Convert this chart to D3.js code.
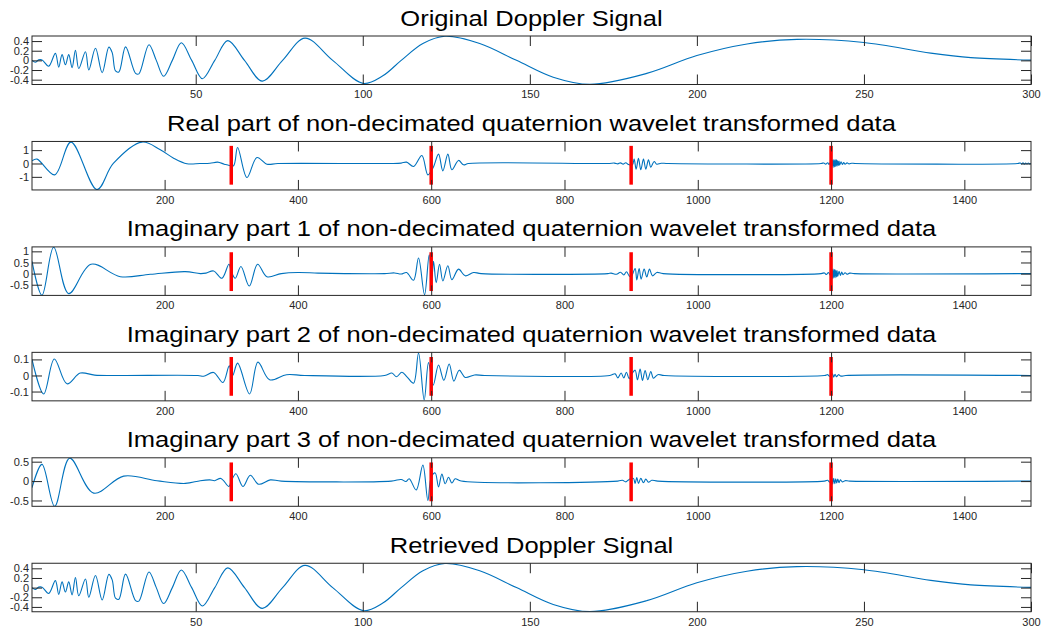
<!DOCTYPE html>
<html><head><meta charset="utf-8">
<script src="https://cdn.jsdelivr.net/npm/d3@7/dist/d3.min.js"></script>
<style>
body{margin:0;background:#fff}
svg{display:block}
text{font-family:"Liberation Sans",Arial,Helvetica,sans-serif}
</style>
</head><body>
<svg id="chart" width="1042" height="629"></svg>
<script>
// ---------------- data ----------------
const panelTitles = [
  "Original Doppler Signal",
  "Real part of non-decimated quaternion wavelet transformed data",
  "Imaginary part 1 of non-decimated quaternion wavelet transformed data",
  "Imaginary part 2 of non-decimated quaternion wavelet transformed data",
  "Imaginary part 3 of non-decimated quaternion wavelet transformed data",
  "Retrieved Doppler Signal"
];
const signalXDomain = [1, 300];
const coefXDomain = [1, 1500];
const signalXTicks = [50, 100, 150, 200, 250, 300];
const coefXTicks = [200, 400, 600, 800, 1000, 1200, 1400];
const signalYTicks = [-0.4, -0.2, 0, 0.2, 0.4];
const realYTicks = [-1, 0, 1];
const imag1YTicks = [-0.5, 0, 0.5, 1];
const imag2YTicks = [-0.1, 0, 0.1];
const imag3YTicks = [-0.5, 0, 0.5];
const signalYLim = [-0.5, 0.505];
const realYLim = [-1.98, 1.65];
const imag1YLim = [-0.98, 1.2];
const imag2YLim = [-0.158, 0.144];
const imag3YLim = [-0.65, 0.6];
const markerPositions = [300, 600, 900, 1200];
const markerFraction = 0.8;

// [sample index, value] (extrema, crossings and a few in-between readings)
const originalDoppler = [
  [1,0],[2,-0.04],[3,0.01],[4,0.01],[6,-0.12],[8,0.145],[9,-0.14],[10,0.12],[11,-0.09],
  [12,0.12],[13,-0.15],[14,0.21],[15,-0.17],[17,0.18],[18,-0.2],[20,0.25],[22,-0.255],
  [24,0.275],[25,0.16],[26,-0.22],[27,-0.24],[29,0.28],[32,-0.27],[33,-0.28],[36,0.325],
  [38.2,0],[40.4,-0.33],[43,0],[45.7,0.365],[48.8,0],[52,-0.38],[55.7,0],[59.6,0.41],
  [64.6,0],[69.9,-0.43],[76,0],[82.7,0.46],[91,0],[100.1,-0.477],[106,-0.32],[111.5,0],
  [118,0.35],[124.6,0.5],[135,0.35],[146,0],[157,-0.35],[168,-0.497],[185,-0.27],
  [200,0.1],[215,0.34],[230,0.435],[250,0.37],[270,0.15],[282,0.056],[300,0.005]
];
const retrievedDoppler = [
  [1,0],[2,-0.04],[3,0.01],[4,0.01],[6,-0.12],[8,0.145],[9,-0.14],[10,0.12],[11,-0.09],
  [12,0.12],[13,-0.15],[14,0.21],[15,-0.17],[17,0.18],[18,-0.2],[20,0.25],[22,-0.255],
  [24,0.275],[25,0.16],[26,-0.22],[27,-0.24],[29,0.28],[32,-0.27],[33,-0.28],[36,0.325],
  [38.2,0],[40.4,-0.33],[43,0],[45.7,0.365],[48.8,0],[52,-0.38],[55.7,0],[59.6,0.41],
  [64.6,0],[69.9,-0.43],[76,0],[82.7,0.46],[91,0],[100.1,-0.477],[106,-0.32],[111.5,0],
  [118,0.35],[124.6,0.5],[135,0.35],[146,0],[157,-0.35],[168,-0.497],[185,-0.27],
  [200,0.1],[215,0.34],[230,0.435],[250,0.37],[270,0.15],[282,0.056],[300,0.005]
];
const realPart = [
  [1,0.2],[8.5,0.33],[35,-0.85],[59.5,1.6],[98.5,-1.95],[123,0],[166,1.6],[193.5,1.03],
  [213.5,0.4],[233.5,-0.02],[253,0],[268,0.02],[279.5,0.1],[289.5,-0.05],[297,-0.15],
  [303.5,-0.17],[309.5,1.2],[323.5,-1.05],[338.5,0.45],[353.5,-0.05],[370,0],[540,0],
  [555,0.03],[563,0.1],[573.5,-0.22],[586,0.6],[595,-0.85],[603,-0.3],[611,0.7],
  [617.5,-0.55],[625,0.7],[631,-0.47],[641,0.23],[648.5,-0.1],[656,0],[865,0],
  [875,0.03],[880,-0.03],[884,0.05],[888,-0.05],[892,0.06],[896,-0.08],[902,-0.1],
  [904.5,0.33],[907.5,-0.42],[911,0.38],[914.5,-0.47],[918.5,0.33],[922,-0.42],[926,0.28],
  [929.5,-0.27],[934.5,0.15],[938.5,-0.05],[945,0.02],[955,0],[1185,0],[1189,0.04],
  [1192,-0.05],[1195,0.06],[1197,-0.07],[1199,0.08],[1201,-0.15],[1202,0.25],[1203,-0.3],
  [1204,0.28],[1205,-0.25],[1206,0.3],[1207,-0.22],[1208,0.27],[1209,-0.2],[1210,0.22],
  [1211,-0.15],[1212,0.18],[1213,-0.12],[1215,0.12],[1217,-0.08],[1219,0.08],[1221,-0.05],
  [1224,0.05],[1227,-0.03],[1231,0.02],[1236,0],[1480,0],[1484,0.04],[1486,-0.04],
  [1488,0.05],[1490,-0.05],[1492,0.04],[1494,-0.04],[1496,0.04],[1498,-0.03],[1500,0]
];
const imagPart1 = [
  [1,0.55],[16,-0.97],[33.5,1.19],[56,-0.9],[89.5,0.42],[133.5,-0.14],[178.5,-0.03],
  [231,0.09],[253.5,0],[262,0.02],[273.5,0.12],[286,-0.21],[296.5,0.42],[300,0.1],
  [306,-0.21],[314.5,0.32],[327,-0.56],[339.5,0.42],[353.5,-0.14],[375,0],[400,0.05],
  [430,0.02],[470,0],[530,0],[545,0.03],[555,-0.02],[563,0.05],[573.5,-0.3],[581,0.7],
  [590,-0.95],[597,0.85],[601,-0.2],[603.5,0.55],[607.5,-0.41],[612.5,0.42],[617.5,-0.33],
  [625,0.35],[631,-0.27],[641,0.2],[651,-0.1],[663.5,0.05],[675,0],[865,0],[870,0.02],
  [878,-0.03],[884,0.06],[889,-0.06],[893,0.08],[897,-0.1],[900,-0.15],[906,0.23],
  [908.5,-0.28],[912,0.23],[915,-0.25],[919.5,0.2],[923.5,-0.15],[927.5,0.2],[932,-0.1],
  [938.5,0.05],[948,0],[1185,0],[1190,0.03],[1193,-0.04],[1196,0.05],[1199,-0.08],
  [1201,0.2],[1202,-0.22],[1203,0.2],[1204,-0.2],[1205,0.18],[1206,-0.18],[1207,0.16],
  [1208,-0.15],[1209,0.14],[1210,-0.12],[1212,0.1],[1214,-0.08],[1216,0.07],[1218,-0.05],
  [1221,0.04],[1224,-0.03],[1228,0.02],[1235,0],[1500,0]
];
const imagPart2 = [
  [1,0.1],[18.5,-0.115],[34.5,0.103],[53.5,-0.052],[73.5,0.015],[95,0.002],[130,0],
  [250,0],[258.5,-0.005],[273.5,0.019],[287.5,-0.044],[297,0.06],[302,0],[309.5,0.077],
  [327.5,-0.115],[340,0.083],[357.5,-0.027],[383,0.005],[410,0],[530,0],[541,0.015],
  [548,-0.008],[556,0.02],[564,-0.01],[573.5,-0.048],[581,0.14],[589.5,-0.152],[596,0.08],
  [603,-0.06],[611,0.065],[619,-0.03],[627,0.071],[634,-0.035],[642,0.033],[651,-0.012],
  [665,0.003],[680,0],[868,0],[876,0.01],[880,-0.015],[885,0.015],[889,-0.015],[893,0.02],
  [897,-0.02],[901,0.01],[906,0.033],[909.5,-0.027],[913.5,0.04],[917,-0.031],[921,0.031],
  [925,-0.027],[929.5,0.025],[933.5,-0.017],[940,0.005],[950,0],[1190,0],[1195,0.005],
  [1198,-0.006],[1202,0.01],[1204,-0.01],[1206,0.008],[1208,-0.008],[1211,0.005],
  [1215,-0.004],[1222,0],[1500,0]
];
const imagPart3 = [
  [1,-0.17],[16,0.43],[35,-0.65],[57.5,0.59],[93.5,-0.31],[138.5,0.127],[188.5,0.008],
  [231,-0.06],[253.5,0.01],[268,0.03],[275,0.01],[284.5,0.068],[296.5,-0.14],[300,0],
  [307,0.19],[317.5,-0.14],[328.5,0.15],[341,-0.08],[358.5,0.03],[375,0],[540,0],
  [555,0.04],[562,-0.01],[567,0.06],[577.5,-0.23],[587.5,0.41],[595,-0.5],[600,0.1],
  [606,0.21],[611,-0.15],[616,0.18],[621,-0.07],[626,0.1],[631,-0.05],[636,0.06],[645,0],
  [880,0],[887,0.02],[892,-0.02],[896,0.03],[899,0.06],[903.5,0.07],[906,-0.06],
  [908.5,0.09],[911,-0.06],[914.5,0.07],[918.5,-0.04],[922,0.05],[926,-0.03],[931,0.02],
  [940,0],[1190,0],[1195,0.02],[1198,-0.03],[1201,0.07],[1202.5,-0.08],[1204,0.07],
  [1205.5,-0.07],[1207,0.06],[1208.5,-0.05],[1210,0.05],[1212,-0.04],[1214,0.03],
  [1217,-0.02],[1221,0.01],[1228,0],[1500,0]
];

// ---------------- layout / style ----------------
const panels = [
  {title: panelTitles[0], data: originalDoppler, xd: signalXDomain, xt: signalXTicks, yl: signalYLim, yt: signalYTicks, markers: false},
  {title: panelTitles[1], data: realPart, xd: coefXDomain, xt: coefXTicks, yl: realYLim, yt: realYTicks, markers: true},
  {title: panelTitles[2], data: imagPart1, xd: coefXDomain, xt: coefXTicks, yl: imag1YLim, yt: imag1YTicks, markers: true},
  {title: panelTitles[3], data: imagPart2, xd: coefXDomain, xt: coefXTicks, yl: imag2YLim, yt: imag2YTicks, markers: true},
  {title: panelTitles[4], data: imagPart3, xd: coefXDomain, xt: coefXTicks, yl: imag3YLim, yt: imag3YTicks, markers: true},
  {title: panelTitles[5], data: retrievedDoppler, xd: signalXDomain, xt: signalXTicks, yl: signalYLim, yt: signalYTicks, markers: false}
];
const L = 32, R = 1031, TOP0 = 36, STEP = 105.45, H = 48.5;
const axisColor = "#262626", lineColor = "#0072BD";
const svg = d3.select("#chart");
const fmt = d => String(d);

panels.forEach((p, i) => {
  const top = TOP0 + i * STEP, bottom = top + H;
  const x = d3.scaleLinear().domain(p.xd).range([L, R]);
  const y = d3.scaleLinear().domain(p.yl).range([bottom, top]);
  const g = svg.append("g");

  g.append("clipPath").attr("id", "clip" + i)
    .append("rect").attr("x", L).attr("y", top).attr("width", R - L).attr("height", H);

  const line = d3.line().x(d => x(d[0])).y(d => y(d[1])).curve(d3.curveCatmullRom.alpha(0.5));
  g.append("path").datum(p.data).attr("d", line)
    .attr("fill", "none").attr("stroke", lineColor).attr("stroke-width", 1.1)
    .attr("stroke-linejoin", "round").attr("clip-path", `url(#clip${i})`);

  if (p.markers) {
    g.selectAll("line.marker").data(markerPositions).join("line")
      .attr("class", "marker")
      .attr("x1", d => x(d)).attr("x2", d => x(d))
      .attr("y1", y(p.yl[0] * markerFraction)).attr("y2", y(p.yl[1] * markerFraction))
      .attr("stroke", "#ff0000").attr("stroke-width", 3.5);
  }

  const styleAxis = (sel, labels) => {
    sel.select(".domain").remove();
    sel.selectAll(".tick line").attr("stroke", axisColor).attr("stroke-width", 1);
    sel.selectAll(".tick text").attr("fill", axisColor).style("font-size", "11px");
    if (!labels) sel.selectAll(".tick text").remove();
  };
  g.append("g").attr("transform", `translate(0,${bottom})`)
    .call(d3.axisBottom(x).tickValues(p.xt).tickFormat(fmt).tickSizeInner(-10).tickSizeOuter(0).tickPadding(6))
    .call(s => styleAxis(s, true));
  g.append("g").attr("transform", `translate(0,${top})`)
    .call(d3.axisTop(x).tickValues(p.xt).tickSizeInner(-10).tickSizeOuter(0))
    .call(s => styleAxis(s, false));
  g.append("g").attr("transform", `translate(${L},0)`)
    .call(d3.axisLeft(y).tickValues(p.yt).tickFormat(fmt).tickSizeInner(-10).tickSizeOuter(0).tickPadding(3))
    .call(s => styleAxis(s, true));
  g.append("g").attr("transform", `translate(${R},0)`)
    .call(d3.axisRight(y).tickValues(p.yt).tickSizeInner(-10).tickSizeOuter(0))
    .call(s => styleAxis(s, false));

  g.append("rect").attr("x", L).attr("y", top).attr("width", R - L).attr("height", H)
    .attr("fill", "none").attr("stroke", axisColor).attr("stroke-width", 1);

  svg.append("g").attr("transform", `translate(${(L + R) / 2},${top - 10.5}) scale(1.16,1)`)
    .append("text").attr("text-anchor", "middle").attr("fill", "#000")
    .style("font-size", "22px").text(p.title);
});
</script>
</body></html>
